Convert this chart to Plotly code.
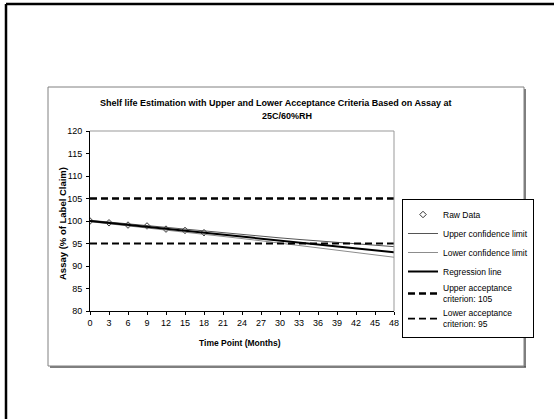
import plotly.graph_objects as go

# ---- data ----
months = [0, 3, 6, 9, 12, 15, 18, 21, 24, 27, 30, 33, 36, 39, 42, 45, 48]
raw_months = [0, 3, 6, 9, 12, 15, 18]
raw_assay = [100.0, 99.6, 99.1, 98.9, 98.2, 97.9, 97.4]
regression = [100.0, 99.57, 99.13, 98.70, 98.26, 97.83, 97.39, 96.96, 96.52,
              96.09, 95.65, 95.22, 94.78, 94.35, 93.91, 93.48, 93.04]
upper_cl = [100.15, 99.75, 99.3, 98.9, 98.5, 98.1, 97.7, 97.3, 96.95,
            96.6, 96.25, 95.9, 95.55, 95.2, 94.9, 94.6, 94.3]
lower_cl = [99.85, 99.4, 98.95, 98.5, 98.0, 97.55, 97.1, 96.6, 96.1,
            95.6, 95.1, 94.55, 94.0, 93.5, 93.0, 92.45, 91.95]
upper_acc = [105] * len(months)
lower_acc = [95] * len(months)
x_ticks = list(range(0, 49, 3))
y_ticks = list(range(80, 121, 5))

FONT = "Liberation Sans, Arial, sans-serif"
W, H = 554, 419
L, R, T, B = 90, 394, 131, 311  # plot area in pixels


def px(x):
    return (x - L) / (R - L)


def py(y):
    return (B - y) / (B - T)


fig = go.Figure()
fig.add_trace(go.Scatter(x=raw_months, y=raw_assay, mode="markers", name="Raw Data",
                         marker=dict(symbol="diamond-open", size=5, color="#333333",
                                     line=dict(width=1, color="#333333"))))
fig.add_trace(go.Scatter(x=months, y=upper_cl, mode="lines", name="Upper confidence limit",
                         line=dict(color="#555555", width=1)))
fig.add_trace(go.Scatter(x=months, y=lower_cl, mode="lines", name="Lower confidence limit",
                         line=dict(color="#8c8c8c", width=1)))
fig.add_trace(go.Scatter(x=months, y=regression, mode="lines", name="Regression line",
                         line=dict(color="black", width=2)))
fig.add_trace(go.Scatter(x=months, y=upper_acc, mode="lines",
                         name="Upper acceptance<br>criterion: 105",
                         line=dict(color="black", width=2.5, dash="7px,4px")))
fig.add_trace(go.Scatter(x=months, y=lower_acc, mode="lines",
                         name="Lower acceptance<br>criterion: 95",
                         line=dict(color="black", width=1.8, dash="7px,4px")))

shapes = [
    # outer page frame (top and left visible)
    dict(type="line", xref="paper", yref="paper", x0=px(6), x1=px(600), y0=py(4), y1=py(4),
         line=dict(color="black", width=2.5)),
    dict(type="line", xref="paper", yref="paper", x0=px(6), x1=px(6), y0=py(4), y1=py(450),
         line=dict(color="black", width=2.5)),
    # chart area frame with shadow
    dict(type="line", xref="paper", yref="paper", x0=px(50), x1=px(526), y0=py(367), y1=py(367),
         line=dict(color="#555555", width=1.5)),
    dict(type="line", xref="paper", yref="paper", x0=px(525), x1=px(525), y0=py(89), y1=py(367),
         line=dict(color="#555555", width=1.5)),
    dict(type="rect", xref="paper", yref="paper", x0=px(48), x1=px(524), y0=py(366), y1=py(87),
         line=dict(color="#808080", width=1)),
    # plot-area border (top/right, gray)
    dict(type="line", xref="paper", yref="paper", x0=0, x1=1, y0=1, y1=1,
         line=dict(color="#999999", width=1)),
    dict(type="line", xref="paper", yref="paper", x0=1, x1=1, y0=0, y1=1,
         line=dict(color="#999999", width=1)),
]

annotations = [
    dict(text="<b>Shelf life Estimation with Upper and Lower Acceptance Criteria Based on Assay at</b>",
         xref="paper", yref="paper", x=px(275), y=py(103), xanchor="center", yanchor="middle",
         showarrow=False, font=dict(family=FONT, size=9, color="black")),
    dict(text="<b>25C/60%RH</b>",
         xref="paper", yref="paper", x=px(287), y=py(116), xanchor="center", yanchor="middle",
         showarrow=False, font=dict(family=FONT, size=9, color="black")),
    dict(text="<b>Assay (% of Label Claim)</b>", textangle=-90,
         xref="paper", yref="paper", x=px(62), y=py(224), xanchor="center", yanchor="middle",
         showarrow=False, font=dict(family=FONT, size=9.5, color="black")),
    dict(text="<b>Time Point (Months)</b>",
         xref="paper", yref="paper", x=px(240), y=py(343), xanchor="center", yanchor="middle",
         showarrow=False, font=dict(family=FONT, size=8.5, color="black")),
]

fig.update_layout(
    width=W, height=H,
    margin=dict(l=L, r=W - R, t=T, b=H - B, pad=0, autoexpand=False),
    paper_bgcolor="white", plot_bgcolor="white",
    font=dict(family=FONT, size=10, color="black"),
    showlegend=True,
    legend=dict(x=px(402), y=py(199), xanchor="left", yanchor="top",
                bordercolor="black", borderwidth=1, bgcolor="white",
                font=dict(family=FONT, size=8.5, color="black"),
                itemwidth=30, tracegroupgap=0),
    shapes=shapes,
    annotations=annotations,
    xaxis=dict(range=[0, 48], tickmode="array", tickvals=x_ticks, ticktext=[str(v) for v in x_ticks],
               showgrid=False, zeroline=False, showline=True, linecolor="black", linewidth=1,
               ticks="outside", ticklen=3, tickcolor="black",
               tickfont=dict(family=FONT, size=9, color="black")),
    yaxis=dict(range=[80, 120], tickmode="array", tickvals=y_ticks, ticktext=[str(v) for v in y_ticks],
               showgrid=False, zeroline=False, showline=True, linecolor="black", linewidth=1,
               ticks="outside", ticklen=3, tickcolor="black", ticklabelstandoff=2,
               tickfont=dict(family=FONT, size=9, color="black")),
)

fig.write_html("out.html", post_script="document.body.style.margin='0';",
               config={"displayModeBar": False})
